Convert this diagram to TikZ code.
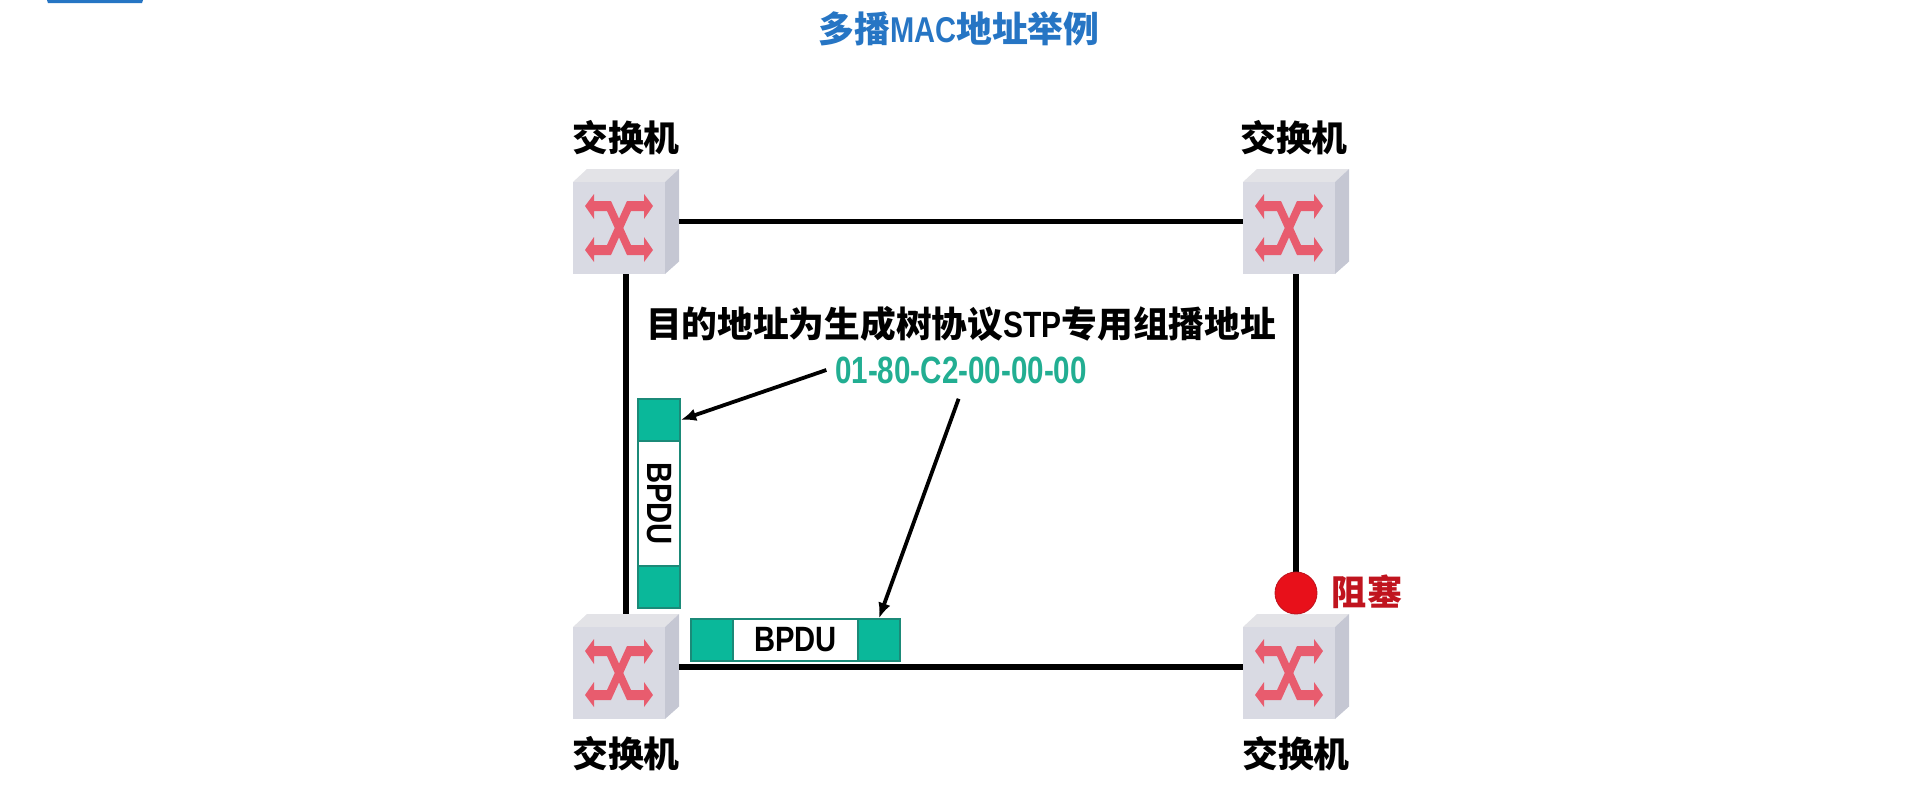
\documentclass[tikz,border=0pt]{standalone}
\usepackage{graphicx}
\usepackage{fontspec}
\setmainfont{Liberation Sans}
\newfontfamily\cjk{Noto Sans CJK SC}
\usetikzlibrary{arrows.meta}

\definecolor{titleblue}{HTML}{2675C4}
\definecolor{framegreen}{HTML}{0AB89A}
\definecolor{frameedge}{HTML}{1B8A78}
\definecolor{addrgreen}{HTML}{22AE92}
\definecolor{blockred}{HTML}{E8101A}
\definecolor{wordred}{HTML}{C0141E}
\definecolor{arrowpink}{HTML}{E85C6E}
\definecolor{swfront}{HTML}{D9DAE3}
\definecolor{swtop}{HTML}{E3E3E7}
\definecolor{swside}{HTML}{C5C7D3}

\newcommand{\squeeze}[2]{\scalebox{#1}[1]{#2}}

\tikzset{
  swbox/.style={minimum width=2.65cm, minimum height=2.625cm, inner sep=0pt,
    path picture={
      \begin{scope}[shift={(path picture bounding box.center)}]
        \fill[swtop] (-53,-39.5) -- (-39,-52.5) -- (53,-52.5) -- (39,-39.5) -- cycle;
        \fill[swside] (39,-39.5) -- (53,-52.5) -- (53,40) -- (39,52.5) -- cycle;
        \fill[swfront] (-53,-39.5) rectangle (39,52.5);
        \fill[arrowpink]
          (-41,-15.5) -- (-32,-27.5) -- (-32,-20.5) -- (-15,-20.5) -- (5,23.5) -- (18,23.5)
          -- (18,15.5) -- (27,28.5) -- (18,40.5) -- (18,33.5) -- (1,33.5) -- (-19,-10.5)
          -- (-32,-10.5) -- (-32,-2.5) -- cycle;
        \fill[arrowpink]
          (-41,28.5) -- (-32,40.5) -- (-32,33.5) -- (-15,33.5) -- (5,-10.5) -- (18,-10.5)
          -- (18,-2.5) -- (27,-15.5) -- (18,-27.5) -- (18,-20.5) -- (1,-20.5) -- (-19,23.5)
          -- (-32,23.5) -- (-32,15.5) -- cycle;
      \end{scope}
    }},
  swlabel/.style={font=\cjk\bfseries\fontsize{25.5}{28}\selectfont, inner sep=0pt},
  wire/.style={line width=4.25pt},
  pointer/.style={line width=2.7pt, -{Latex[length=11pt,width=9pt]}},
  greenbox/.style={draw=frameedge, line width=1pt, fill=framegreen, inner sep=0pt},
  whitebox/.style={draw=frameedge, line width=1pt, fill=white, inner sep=0pt,
    font=\bfseries\fontsize{25}{28}\selectfont}
}

\begin{document}
\begin{tikzpicture}[x=0.025cm, y=-0.025cm]
\useasboundingbox (0,0) rectangle (1920,798);

% Tab at the top left
\fill[titleblue] (47,0) -- (143,0) -- (142,3) -- (48,3) -- cycle;

% Title
\node[font=\bfseries\fontsize{25.5}{28}\selectfont, text=titleblue, inner sep=0pt] (title) at (959,29)
  {{\cjk 多播}\squeeze{0.81}{MAC}{\cjk 地址举例}};

% Switches
\node[swbox] (swTL) at (626,221.5) {};
\node[swbox] (swTR) at (1296,221.5) {};
\node[swbox] (swBL) at (626,666.5) {};
\node[swbox] (swBR) at (1296,666.5) {};

% Switch labels
\node[swlabel] (labTL) at (626,138) {交换机};
\node[swlabel] (labTR) at (1294,138) {交换机};
\node[swlabel] (labBL) at (626,754) {交换机};
\node[swlabel] (labBR) at (1296,754) {交换机};

% Links
\draw[wire] (swTL) -- (swTR);
\draw[wire] (swTL) -- (swBL);
\draw[wire] (swBL) -- (swBR);
\draw[wire] (swTR) -- (swBR);

% Blocked port
\node[circle, fill=blockred, draw=wordred, line width=0.6pt, minimum size=1.05cm, inner sep=0pt] (block) at (1296,593) {};
\node[font=\cjk\bfseries\fontsize{25}{28}\selectfont, text=wordred, inner sep=0pt] (blockword) at (1367,592) {阻塞};

% Texts in the ring
\node[font=\bfseries\fontsize{26}{28}\selectfont, inner sep=0pt] (dest) at (961,324)
  {{\cjk\fontsize{25.4}{28}\selectfont 目的地址为生成树协议}\squeeze{0.82}{STP}{\cjk\fontsize{25.4}{28}\selectfont 专用组播地址}};
\node[font=\bfseries\fontsize{27}{30}\selectfont, text=addrgreen, inner sep=6pt] (addr) at (961,370) {\squeeze{0.78}{01-80-C2-00-00-00}};

% Upright frame
\node[greenbox, minimum width=1.05cm, minimum height=1.05cm] (headV) at (659,420) {};
\node[whitebox, minimum width=1.05cm, minimum height=3.125cm] (bpduV) at (659,503.5) {\rotatebox{-90}{\squeeze{0.83}{BPDU}}};
\node[greenbox, minimum width=1.05cm, minimum height=1.05cm] (tailV) at (659,587) {};

% Flat frame
\node[greenbox, minimum width=1.05cm, minimum height=1.05cm] (headH) at (712,640) {};
\node[whitebox, minimum width=3.125cm, minimum height=1.05cm] (bpduH) at (795.5,640) {\squeeze{0.83}{BPDU}};
\node[greenbox, minimum width=1.05cm, minimum height=1.05cm] (tailH) at (879,640) {};

% Pointers
\draw[pointer] (addr.west) -- (headV.east);
\draw[pointer, shorten <=5pt] (addr.south) -- (tailH.north);

\end{tikzpicture}
\end{document}
